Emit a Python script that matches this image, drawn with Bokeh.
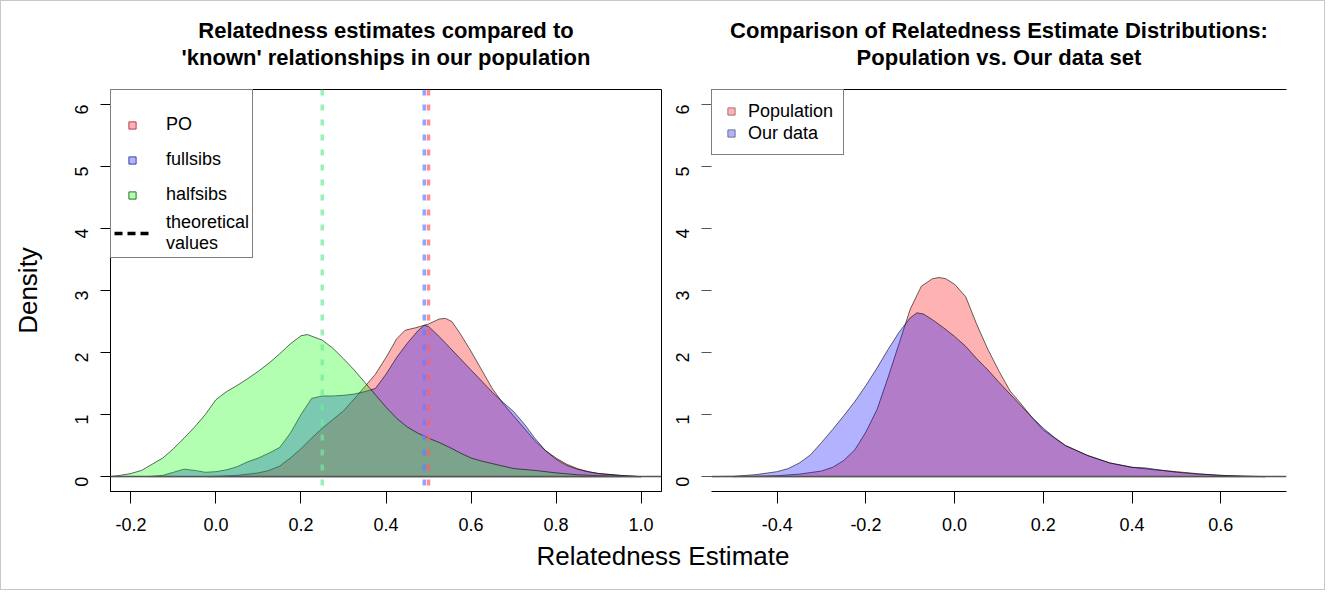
import math
from bokeh.plotting import figure
from bokeh.models import (Range1d, Span, Legend, LegendItem, FixedTicker,
                          PrintfTickFormatter, Title, LinearAxis, Label)
from bokeh.layouts import row, column
from bokeh.embed import file_html
from bokeh.resources import INLINE

FONT = "Liberation Sans"

# ---------------- data: left panel (known relationships) ----------------
po_x = [-0.02, 0.0, 0.05, 0.1, 0.125, 0.15, 0.175, 0.2, 0.225, 0.25, 0.275, 0.3, 0.325, 0.35,
        0.375, 0.4, 0.425, 0.445, 0.47, 0.5, 0.525, 0.54, 0.555, 0.575, 0.6, 0.625, 0.65,
        0.675, 0.7, 0.725, 0.75, 0.775, 0.8, 0.825, 0.85, 0.875, 0.9, 0.95, 1.0]
po_d = [0.0, 0.005, 0.02, 0.06, 0.1, 0.17, 0.3, 0.45, 0.62, 0.78, 0.92, 1.06, 1.25, 1.45,
        1.65, 1.92, 2.22, 2.36, 2.4, 2.46, 2.54, 2.55, 2.5, 2.3, 2.02, 1.72, 1.42,
        1.18, 0.98, 0.78, 0.58, 0.42, 0.3, 0.2, 0.13, 0.08, 0.05, 0.02, 0.0]

full_x = [-0.16, -0.125, -0.1, -0.075, -0.05, -0.025, 0.0, 0.025, 0.05, 0.075, 0.1, 0.125,
          0.15, 0.175, 0.2, 0.225, 0.25, 0.275, 0.3, 0.325, 0.35, 0.375, 0.4, 0.425, 0.45,
          0.475, 0.49, 0.5, 0.525, 0.55, 0.575, 0.6, 0.625, 0.65, 0.675, 0.7, 0.725, 0.75,
          0.775, 0.8, 0.825, 0.85, 0.875, 0.9, 0.95, 1.0]
full_d = [0.0, 0.02, 0.07, 0.12, 0.1, 0.07, 0.08, 0.11, 0.16, 0.24, 0.3, 0.38,
          0.47, 0.7, 1.0, 1.26, 1.3, 1.3, 1.31, 1.33, 1.37, 1.42, 1.65, 1.92, 2.15,
          2.35, 2.44, 2.42, 2.26, 2.08, 1.9, 1.72, 1.54, 1.36, 1.2, 1.05, 0.85, 0.62,
          0.42, 0.28, 0.18, 0.12, 0.08, 0.05, 0.02, 0.0]

half_x = [-0.25, -0.225, -0.2, -0.175, -0.15, -0.125, -0.1, -0.075, -0.05, -0.025, 0.0,
          0.025, 0.05, 0.075, 0.1, 0.125, 0.15, 0.175, 0.2, 0.215, 0.25, 0.275, 0.3, 0.325,
          0.35, 0.375, 0.4, 0.425, 0.45, 0.475, 0.5, 0.525, 0.55, 0.575, 0.6, 0.625, 0.65,
          0.675, 0.7, 0.75, 0.8, 0.85, 0.9, 0.95, 1.0]
half_d = [0.0, 0.02, 0.05, 0.1, 0.2, 0.3, 0.45, 0.62, 0.8, 1.0, 1.24,
          1.37, 1.47, 1.58, 1.7, 1.83, 1.98, 2.14, 2.27, 2.29, 2.2, 2.07, 1.9, 1.72,
          1.52, 1.32, 1.12, 0.94, 0.8, 0.7, 0.62, 0.55, 0.47, 0.38, 0.3, 0.25, 0.21,
          0.17, 0.13, 0.1, 0.06, 0.03, 0.015, 0.005, 0.0]

relationships = ["PO", "fullsibs", "halfsibs"]
theoretical = [0.5, 0.49, 0.25]

# ---------------- data: right panel (population vs our data) ----------------
pop_x = [-0.5, -0.45, -0.4, -0.35, -0.3, -0.275, -0.25, -0.225, -0.2, -0.175, -0.15, -0.125,
         -0.1, -0.075, -0.05, -0.035, -0.02, 0.0, 0.025, 0.05, 0.075, 0.1, 0.125, 0.15,
         0.175, 0.2, 0.25, 0.3, 0.35, 0.4, 0.45, 0.5, 0.55, 0.6, 0.65, 0.7]
pop_d = [0.0, 0.005, 0.015, 0.04, 0.09, 0.15, 0.26, 0.43, 0.72, 1.08, 1.6, 2.15,
         2.7, 3.07, 3.19, 3.21, 3.19, 3.1, 2.9, 2.45, 2.05, 1.7, 1.38, 1.17,
         0.95, 0.75, 0.5, 0.34, 0.22, 0.15, 0.11, 0.08, 0.045, 0.02, 0.01, 0.0]

our_x = [-0.55, -0.5, -0.45, -0.4, -0.375, -0.35, -0.325, -0.3, -0.275, -0.25, -0.225, -0.2,
         -0.175, -0.15, -0.125, -0.1, -0.085, -0.07, -0.05, -0.025, 0.0, 0.025, 0.05, 0.075,
         0.1, 0.125, 0.15, 0.175, 0.2, 0.225, 0.25, 0.3, 0.35, 0.4, 0.43, 0.45, 0.5, 0.55,
         0.6, 0.65, 0.7]
our_d = [0.0, 0.005, 0.03, 0.08, 0.13, 0.22, 0.35, 0.55, 0.76, 0.98, 1.21, 1.47,
         1.75, 2.05, 2.33, 2.56, 2.64, 2.62, 2.53, 2.4, 2.26, 2.1, 1.9, 1.72,
         1.52, 1.33, 1.14, 0.95, 0.78, 0.63, 0.5, 0.34, 0.22, 0.15, 0.14, 0.12, 0.07, 0.04,
         0.02, 0.005, 0.0]

left_xticks = [-0.2, 0.0, 0.2, 0.4, 0.6, 0.8, 1.0]
right_xticks = [-0.4, -0.2, 0.0, 0.2, 0.4, 0.6]
yticks = [0, 1, 2, 3, 4, 5, 6]

RED, BLUE, GREEN = "#ff0000", "#0000ff", "#00ff00"
ALPHA = 0.3
NAN = [float("nan")]


def style_axes(p):
    for ax in p.axis:
        ax.major_label_text_font = FONT
        ax.major_label_text_font_size = "18px"
        ax.major_label_text_color = "black"
        ax.axis_line_color = "black"
        ax.major_tick_line_color = "black"
        ax.minor_tick_line_color = None
        ax.major_tick_in = 0
    p.xaxis.ticker = FixedTicker(ticks=left_xticks)
    p.xaxis.formatter = PrintfTickFormatter(format="%.1f")
    p.xaxis.major_tick_out = 12
    p.xaxis.major_label_standoff = 14
    p.yaxis.ticker = FixedTicker(ticks=yticks)
    p.yaxis.major_label_orientation = math.pi / 2
    p.yaxis.major_tick_out = 10
    p.yaxis.major_label_standoff = 19


def add_titles(p, line1, line2):
    # first added sits next to the frame: an empty spacer, then line 2, then line 1
    p.add_layout(Title(text=" ", text_font_size="1px", standoff=17), "above")
    p.add_layout(Title(text=line2, align="center", text_font=FONT, text_font_size="22px",
                       text_font_style="bold", text_color="black", standoff=0), "above")
    p.add_layout(Title(text=line1, align="center", text_font=FONT, text_font_size="22px",
                       text_font_style="bold", text_color="black", standoff=0), "above")


# ---------------- left figure ----------------
pL = figure(width=664, height=535, x_range=Range1d(-0.248, 1.048),
            y_range=Range1d(-0.24, 6.24), output_backend="svg", toolbar_location=None,
            min_border_left=109, min_border_right=4, min_border_top=88, min_border_bottom=45)
pL.grid.visible = False
pL.outline_line_color = "black"
pL.outline_line_alpha = 1
style_axes(pL)
pL.yaxis.axis_label = "Density"
pL.yaxis.axis_label_text_font = FONT
pL.yaxis.axis_label_text_font_size = "26px"
pL.yaxis.axis_label_text_font_style = "normal"
pL.yaxis.axis_label_text_color = "black"
pL.yaxis.axis_label_standoff = 23
add_titles(pL, "Relatedness estimates compared to", "'known' relationships in our population")

pL.patch(po_x, po_d, fill_color=RED, fill_alpha=ALPHA, line_color="black", line_width=0.6)
pL.patch(full_x, full_d, fill_color=BLUE, fill_alpha=ALPHA, line_color="black", line_width=0.6)
pL.patch(half_x, half_d, fill_color=GREEN, fill_alpha=ALPHA, line_color="black", line_width=0.6)

pL.add_layout(Span(location=0, dimension="width", line_color="#555555", line_width=1.5))
line_cols = {"PO": "#ff6060", "fullsibs": "#6a7cff", "halfsibs": "#70e8a0"}
for name, val in zip(relationships, theoretical):
    pL.add_layout(Span(location=val, dimension="height", line_color=line_cols[name],
                       line_alpha=0.7, line_width=3.5, line_dash="6 9"))

leg_fill = {"PO": RED, "fullsibs": BLUE, "halfsibs": GREEN}
leg_line = {"PO": "#b04050", "fullsibs": "#4040a0", "halfsibs": "#307030"}
itemsL = []
for name in relationships:
    r = pL.scatter(NAN, NAN, marker="square", fill_color=leg_fill[name], fill_alpha=ALPHA,
                   line_color=leg_line[name], line_width=1)
    itemsL.append(LegendItem(label=name, renderers=[r]))
r_th = pL.line(NAN, NAN, line_color="black", line_width=3.5, line_dash="8 5")
itemsL.append(LegendItem(label="theoretical\nvalues", renderers=[r_th]))
legL = Legend(items=itemsL, location="top_left", margin=0, padding=3, spacing=0,
              label_height=35, glyph_height=18, glyph_width=36, label_standoff=16,
              label_text_font=FONT, label_text_font_size="18px", label_text_color="black",
              border_line_color="black", border_line_width=1, background_fill_alpha=1,
              title=" ", title_text_font_size="12px", title_standoff=0)
pL.add_layout(legL)

# ---------------- right figure ----------------
pR = figure(width=659, height=535, x_range=Range1d(-0.548, 0.748),
            y_range=Range1d(-0.24, 6.24), output_backend="svg", toolbar_location=None,
            min_border_left=46, min_border_right=38, min_border_top=87, min_border_bottom=45)
pR.grid.visible = False
pR.outline_line_color = None
style_axes(pR)
pR.xaxis.ticker = FixedTicker(ticks=right_xticks)
pR.yaxis.axis_line_color = None
pR.yaxis.major_tick_line_color = "#555555"
pR.yaxis.major_tick_out = 10
pR.yaxis.major_label_standoff = 19
top_axis = LinearAxis(ticker=FixedTicker(ticks=[]), major_label_text_font_size="0px",
                      major_tick_in=0, major_tick_out=0, axis_line_color="black",
                      minor_tick_line_color=None)
pR.add_layout(top_axis, "above")
add_titles(pR, "Comparison of Relatedness Estimate Distributions:", "Population vs. Our data set")

pR.patch(pop_x, pop_d, fill_color=RED, fill_alpha=ALPHA, line_color="black", line_width=0.6)
pR.patch(our_x, our_d, fill_color=BLUE, fill_alpha=ALPHA, line_color="black", line_width=0.6)
pR.add_layout(Span(location=0, dimension="width", line_color="#555555", line_width=1.5))

rp = pR.scatter(NAN, NAN, marker="square", fill_color=RED, fill_alpha=ALPHA, line_color="#a07080", line_width=1)
ro = pR.scatter(NAN, NAN, marker="square", fill_color=BLUE, fill_alpha=ALPHA, line_color="#707090", line_width=1)
legR = Legend(items=[LegendItem(label="Population", renderers=[rp]),
                     LegendItem(label="Our data", renderers=[ro])],
              location="top_left", margin=0, padding=10, spacing=0,
              label_height=22, glyph_height=18, glyph_width=18, label_standoff=8,
              label_text_font=FONT, label_text_font_size="18px", label_text_color="black",
              border_line_color="black", border_line_width=1, background_fill_alpha=1)
pR.add_layout(legR)

# ---------------- shared x label ----------------
pX = figure(width=1323, height=53, x_range=Range1d(0, 1), y_range=Range1d(0, 1),
            output_backend="svg", toolbar_location=None, min_border=0,
            x_axis_type=None, y_axis_type=None)
pX.grid.visible = False
pX.outline_line_color = None
pX.add_layout(Label(x=0.5, y=0.64, text="Relatedness Estimate", text_align="center",
                    text_baseline="middle", text_font=FONT, text_font_size="26px",
                    text_color="black"))

layout = column(row(pL, pR), pX, styles={"border": "1px solid #c8c8c8"})

open("out.html", "w").write(file_html(layout, INLINE))
